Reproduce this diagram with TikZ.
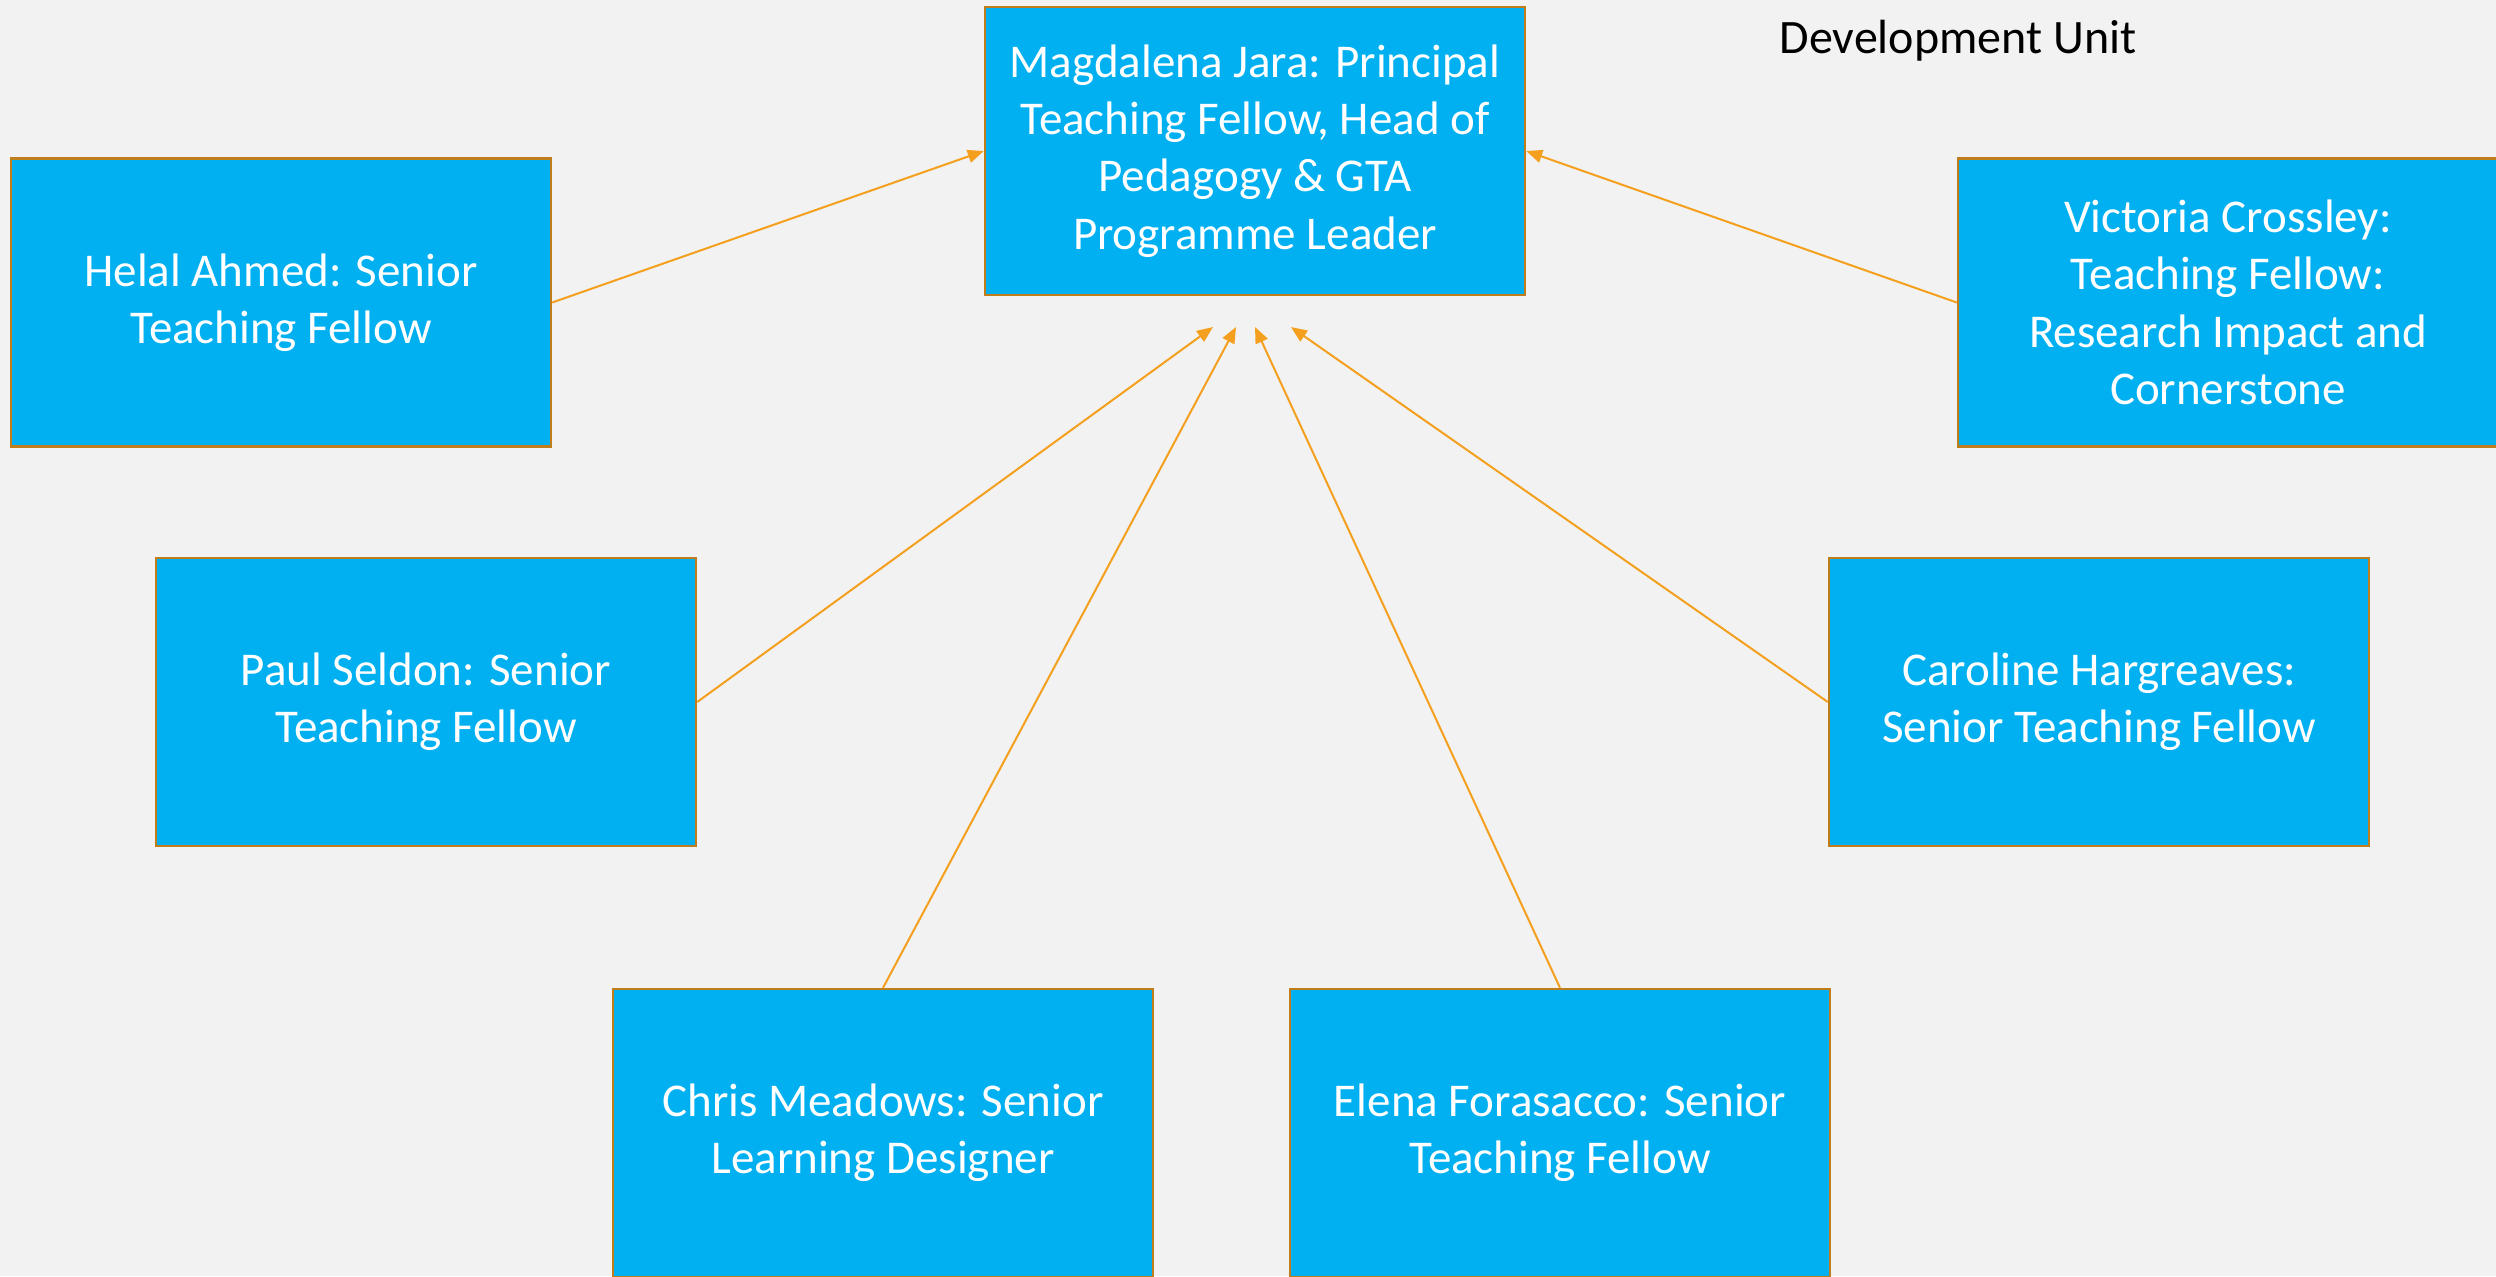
\documentclass[tikz,border=0pt]{standalone}
\usepackage{fontspec}
\setmainfont{Carlito}
\usetikzlibrary{arrows.meta}
\definecolor{bg}{HTML}{F2F2F2}
\definecolor{boxfill}{HTML}{00B0F0}
\definecolor{boxline}{HTML}{C07D1C}
\definecolor{arrowc}{HTML}{F4A01E}
\tikzset{
  person/.style={draw=boxline, line width=1.2pt, fill=boxfill, text=white,
    minimum width=270pt, minimum height=144pt, inner sep=0pt, align=center,
    font=\fontsize{23.5pt}{28.7pt}\selectfont},
  link/.style={draw=arrowc, line width=1pt, -{Triangle[length=8pt,width=6.5pt]}}
}
\begin{document}
\begin{tikzpicture}[x=0.5pt,y=-0.5pt]
\useasboundingbox (0,0) rectangle (2496,1276);
\fill[bg] (0,0) rectangle (2496,1276);
\clip (0,0) rectangle (2496,1276);
\node[person] (mag) at (1255,151) {Magdalena Jara: Principal\\Teaching Fellow, Head of\\Pedagogy \& GTA\\Programme Leader};
\node[person] (hel) at (281,302.5) {Helal Ahmed: Senior\\Teaching Fellow};
\node[person] (vic) at (2228,302.5) {Victoria Crossley:\\Teaching Fellow:\\Research Impact and\\Cornerstone};
\node[person] (paul) at (426,702) {Paul Seldon: Senior\\Teaching Fellow};
\node[person] (car) at (2099,702) {Caroline Hargreaves:\\Senior Teaching Fellow};
\node[person] (chris) at (883,1133) {Chris Meadows: Senior\\Learning Designer};
\node[person] (elena) at (1560,1133) {Elena Forasacco: Senior\\Teaching Fellow};
\node[font=\fontsize{24pt}{28pt}\selectfont, anchor=base] (title) at (1958,53) {Development Unit};
\coordinate (t1) at (1213,327);
\coordinate (t2) at (1236,327);
\coordinate (t3) at (1255,327);
\coordinate (t4) at (1291,327);
\draw[link] (hel.east) -- (mag.west);
\draw[link] (vic.west) -- (mag.east);
\draw[link] (paul.east) -- (t1);
\draw[link] (chris.north) -- (t2);
\draw[link] (elena.north) -- (t3);
\draw[link] (car.west) -- (t4);
\end{tikzpicture}
\end{document}
